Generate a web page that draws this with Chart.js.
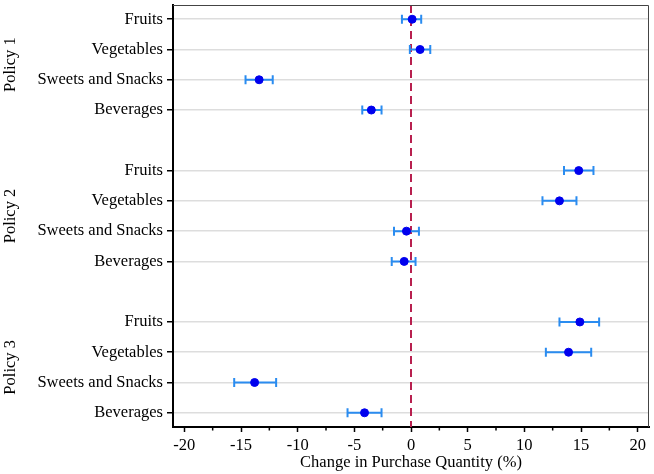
<!DOCTYPE html>
<html>
<head>
<meta charset="utf-8">
<script src="https://cdn.jsdelivr.net/npm/chart.js@4/dist/chart.umd.min.js"></script>
<style>
 html, body { margin: 0; padding: 0; background: #fff; }
 #wrap { width: 654px; height: 474px; }
</style>
</head>
<body>
<div id="wrap"><canvas id="myChart"></canvas></div>
<script>
'use strict';

var policies = ["Policy 1", "Policy 2", "Policy 3"];
var categories = ["Fruits", "Vegetables", "Sweets and Snacks", "Beverages"];
// estimates and 95% CI per policy, in category order
var estimate = [
 [0.1, 0.8, -13.4, -3.5],
 [14.8, 13.1, -0.4, -0.6],
 [14.9, 13.9, -13.8, -4.1]
];
var lower = [
 [-0.8, -0.1, -14.6, -4.3],
 [13.5, 11.6, -1.5, -1.7],
 [13.1, 11.9, -15.6, -5.6]
];
var upper = [
 [0.9, 1.7, -12.2, -2.6],
 [16.1, 14.6, 0.7, 0.4],
 [16.6, 15.9, -11.9, -2.6]
];
var xTicks = [-20, -15, -10, -5, 0, 5, 10, 15, 20];
var xMinorTicks = [-17.5, -12.5, -7.5, -2.5, 2.5, 7.5, 12.5, 17.5];

var FONT = "'Liberation Serif', 'Times New Roman', serif";
var rowGap = 5; // rows per policy block, incl. blank row

var points = [], rowPos = [], rowLabel = {};
policies.forEach(function(p, g){
 categories.forEach(function(c, i){
  var pos = g * rowGap + i;
  rowPos.push(pos);
  rowLabel[pos] = c;
  points.push({ x: estimate[g][i], y: pos, lo: lower[g][i], hi: upper[g][i] });
 });
});

var extras = {
 id: 'extras',
 beforeDatasetsDraw: function(chart){
  var c = chart.ctx, xs = chart.scales.x, ys = chart.scales.y, a = chart.chartArea;
  c.save();
  // dashed zero line
  c.strokeStyle = '#b8204f';
  c.lineWidth = 2;
  c.setLineDash([8, 5]);
  c.beginPath();
  c.moveTo(xs.getPixelForValue(0), a.top);
  c.lineTo(xs.getPixelForValue(0), a.bottom);
  c.stroke();
  c.setLineDash([]);
  // error bars
  c.strokeStyle = '#2a8cf0';
  c.lineWidth = 2;
  points.forEach(function(pt){
   var y = ys.getPixelForValue(pt.y);
   var x1 = xs.getPixelForValue(pt.lo), x2 = xs.getPixelForValue(pt.hi);
   c.beginPath();
   c.moveTo(x1, y); c.lineTo(x2, y);
   c.moveTo(x1, y - 4.5); c.lineTo(x1, y + 4.5);
   c.moveTo(x2, y - 4.5); c.lineTo(x2, y + 4.5);
   c.stroke();
  });
  c.restore();
 },
 afterDraw: function(chart){
  var c = chart.ctx, xs = chart.scales.x, ys = chart.scales.y, a = chart.chartArea;
  c.save();
  // top and right frame
  c.strokeStyle = '#444';
  c.lineWidth = 1;
  c.beginPath();
  c.moveTo(a.left, a.top + 0.5); c.lineTo(a.right - 0.5, a.top + 0.5); c.lineTo(a.right - 0.5, a.bottom);
  c.stroke();
  // minor ticks
  c.strokeStyle = '#000';
  c.lineWidth = 1.5;
  xMinorTicks.forEach(function(v){
   var x = xs.getPixelForValue(v);
   c.beginPath(); c.moveTo(x, a.bottom); c.lineTo(x, a.bottom + 3.5); c.stroke();
  });
  // policy labels
  c.fillStyle = '#000';
  c.font = '16.5px ' + FONT;
  c.textAlign = 'center';
  c.textBaseline = 'middle';
  policies.forEach(function(p, g){
   var yc = ys.getPixelForValue(g * rowGap + 1.5);
   c.save();
   c.translate(11, yc);
   c.rotate(-Math.PI / 2);
   c.fillText(p, 0, 0);
   c.restore();
  });
  // x title
  c.fillText('Change in Purchase Quantity (%)', (a.left + a.right) / 2, 463);
  c.restore();
 }
};

new Chart(document.getElementById('myChart'), {
 type: 'scatter',
 data: {
  datasets: [{
   data: points,
   backgroundColor: '#0000ee',
   borderColor: '#0000ee',
   pointRadius: 4,
   pointHoverRadius: 4
  }]
 },
 options: {
  responsive: true,
  maintainAspectRatio: false,
  animation: false,
  layout: { padding: { top: 3, right: 3, left: 0, bottom: 0 } },
  plugins: { legend: { display: false }, tooltip: { enabled: false } },
  scales: {
   x: {
    type: 'linear',
    min: -21, max: 21,
    afterBuildTicks: function(s){ s.ticks = xTicks.map(function(v){ return { value: v }; }); },
    afterFit: function(s){ s.height = 47; s.paddingLeft = 0; s.paddingRight = 0; },
    grid: { drawOnChartArea: false, drawTicks: true, tickLength: 5, tickColor: '#000', tickWidth: 1.5 },
    border: { display: true, color: '#000', width: 2 },
    ticks: { color: '#000', font: { family: FONT, size: 16.5 }, padding: 4, maxRotation: 0 }
   },
   y: {
    type: 'linear',
    reverse: true,
    min: -0.47, max: 13.47,
    afterBuildTicks: function(s){ s.ticks = rowPos.map(function(v){ return { value: v }; }); },
    afterFit: function(s){ s.width = 173; s.paddingTop = 0; s.paddingBottom = 0; },
    grid: { color: '#dddddd', lineWidth: 1.5, drawTicks: true, tickLength: 6, tickColor: '#000', tickWidth: 1.5 },
    border: { display: true, color: '#000', width: 2 },
    ticks: {
     autoSkip: false,
     color: '#000',
     font: { family: FONT, size: 16.5 },
     padding: 4,
     callback: function(v){ return rowLabel[v] || ''; }
    }
   }
  }
 },
 plugins: [extras]
});
</script>
</body>
</html>
